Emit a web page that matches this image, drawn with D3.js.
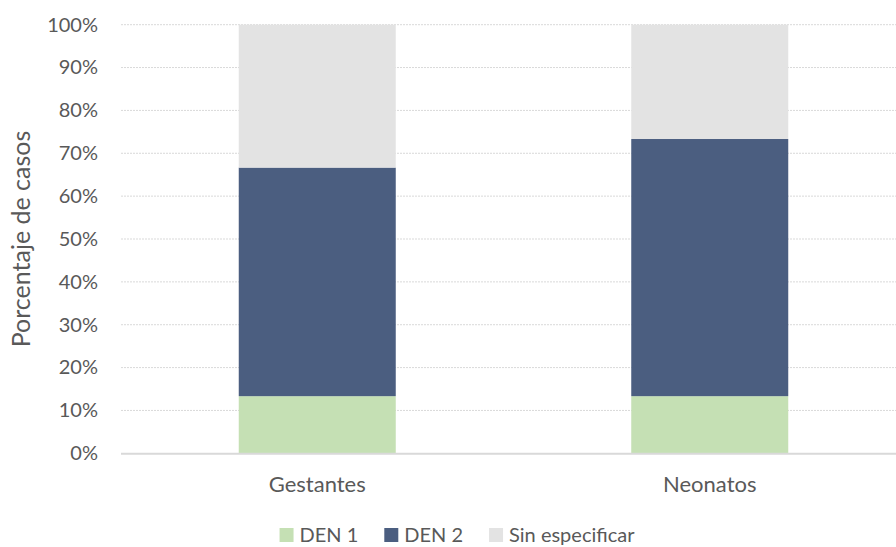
<!DOCTYPE html>
<html>
<head>
<meta charset="utf-8">
<script src="https://cdn.jsdelivr.net/npm/d3@7"></script>
<style>
  body { margin: 0; background: #fff; }
  text { font-family: Lato, "Open Sans", sans-serif; fill: #595959; }
</style>
</head>
<body>
<div id="chart"></div>
<script>
// categories and series (share of cases, %)
var categories = ['Gestantes', 'Neonatos'];
var seriesNames = ['DEN 1', 'DEN 2', 'Sin especificar'];
var den1 = [13.33, 13.33];
var den2 = [53.33, 60.0];
var sinEspecificar = [33.34, 26.67];
var yTicks = [0, 10, 20, 30, 40, 50, 60, 70, 80, 90, 100];

var colors = ['#c5e0b4', '#4b5e80', '#e3e3e3'];

var width = 896, height = 547;
var margin = {top: 24.7, right: -10, bottom: 93.7, left: 121};

var svg = d3.select('#chart').append('svg')
    .attr('width', width)
    .attr('height', height);

// table for the stack layout
var rows = categories.map(function(c, i) {
    return {cat: c, 'DEN 1': den1[i], 'DEN 2': den2[i], 'Sin especificar': sinEspecificar[i]};
});
var stacked = d3.stack().keys(seriesNames)(rows);

var x = d3.scaleBand()
    .domain(categories)
    .range([margin.left, width - margin.right])
    .paddingInner(0.6)
    .paddingOuter(0.3);

var y = d3.scaleLinear()
    .domain([0, 100])
    .range([height - margin.bottom, margin.top]);

// dotted gridlines
svg.append('g')
    .selectAll('line')
    .data(yTicks.filter(function(d) { return d > 0; }))
    .enter().append('line')
    .attr('x1', margin.left)
    .attr('x2', width)
    .attr('y1', function(d) { return y(d); })
    .attr('y2', function(d) { return y(d); })
    .style('stroke', '#d9d9d9')
    .style('stroke-width', 1)
    .style('stroke-dasharray', '2,1');

// bars
svg.append('g')
    .selectAll('g')
    .data(stacked)
    .enter().append('g')
    .style('fill', function(d, i) { return colors[i]; })
    .selectAll('rect')
    .data(function(d) { return d; })
    .enter().append('rect')
    .attr('x', function(d) { return x(d.data.cat); })
    .attr('width', x.bandwidth())
    .attr('y', function(d) { return y(d[1]); })
    .attr('height', function(d) { return y(d[0]) - y(d[1]); });

// baseline
svg.append('line')
    .attr('x1', margin.left)
    .attr('x2', width)
    .attr('y1', y(0) + 0.5)
    .attr('y2', y(0) + 0.5)
    .style('stroke', '#d9d9d9')
    .style('stroke-width', 2);

// y axis
var yAxis = d3.axisLeft(y)
    .tickValues(yTicks)
    .tickSize(0)
    .tickPadding(23)
    .tickFormat(function(d) { return d + '%'; });

var gy = svg.append('g')
    .attr('transform', 'translate(' + margin.left + ',0)')
    .call(yAxis);
gy.select('.domain').remove();
gy.selectAll('text')
    .style('font-size', '20px')
    .style('font-family', 'Lato, sans-serif')
    .style('fill', '#595959');

// x axis
var xAxis = d3.axisBottom(x).tickSize(0).tickPadding(23);
var gx = svg.append('g')
    .attr('transform', 'translate(0,' + y(0) + ')')
    .call(xAxis);
gx.select('.domain').remove();
gx.selectAll('text')
    .style('font-size', '22px')
    .style('font-family', 'Lato, sans-serif')
    .style('fill', '#595959');

// y axis title
svg.append('text')
    .attr('transform', 'translate(30,' + (y(50)) + ') rotate(-90)')
    .attr('text-anchor', 'middle')
    .style('font-size', '25px')
    .text('Porcentaje de casos');

// legend
var legend = svg.append('g');
var lx = 0;
seriesNames.forEach(function(name, i) {
    var item = legend.append('g').attr('transform', 'translate(' + lx + ',0)');
    item.append('rect')
        .attr('x', 0)
        .attr('y', 528)
        .attr('width', 14)
        .attr('height', 14)
        .style('fill', colors[i]);
    var t = item.append('text')
        .attr('x', 20)
        .attr('y', 542)
        .style('font-size', '20px')
        .text(name);
    lx += 20 + t.node().getComputedTextLength() + 26;
});
var legendWidth = lx - 26;
legend.attr('transform', 'translate(' + (457 - legendWidth / 2) + ',0)');
</script>
</body>
</html>
